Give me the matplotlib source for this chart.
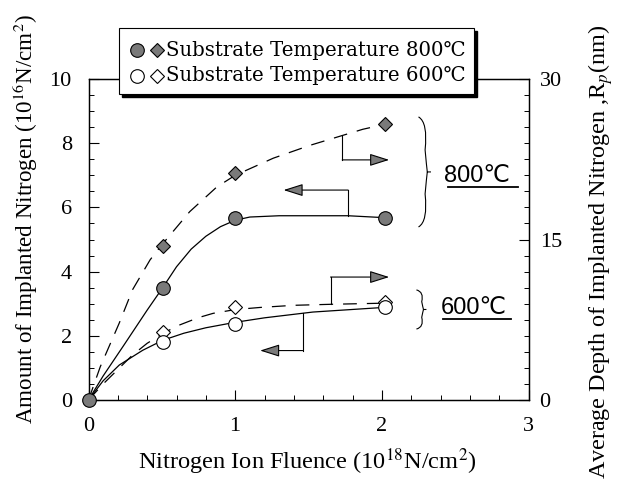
import matplotlib
matplotlib.use("Agg")
import matplotlib.pyplot as plt
from matplotlib.path import Path
from matplotlib.patches import PathPatch, Rectangle
from matplotlib.lines import Line2D

# ---------------- data ----------------
fluence = [0.0, 0.506, 1.0, 2.02]
amount_800 = [0.0, 3.5, 5.66, 5.66]          # 10^16 N/cm^2 (left axis)
depth_800 = [0.0, 14.4, 21.2, 25.8]          # nm (right axis)
amount_600 = [0.0, 1.82, 2.37, 2.91]
depth_600 = [0.0, 6.4, 8.7, 9.2]

# fitted curves
fit_amount_800_x = [0.0, 0.1, 0.24, 0.4, 0.506, 0.6, 0.7, 0.8, 0.9, 1.0, 1.1, 1.3, 1.77, 2.02]
fit_amount_800_y = [0.0, 0.75, 1.7, 2.8, 3.5, 4.15, 4.7, 5.1, 5.4, 5.6, 5.7, 5.74, 5.74, 5.68]
fit_depth_800_x = [0.0, 0.08, 0.21, 0.30, 0.42, 0.506, 0.69, 0.874, 1.0, 1.26, 1.51, 1.87, 2.0]
fit_depth_800_y = [0.0, 3.1, 7.2, 10.3, 13.1, 14.6, 17.6, 19.9, 21.0, 22.6, 23.8, 25.3, 25.7]
fit_amount_600_x = [0.0, 0.1, 0.21, 0.37, 0.506, 0.65, 0.8, 1.0, 1.2, 1.53, 2.0]
fit_amount_600_y = [0.0, 0.6, 1.09, 1.55, 1.86, 2.08, 2.25, 2.42, 2.56, 2.74, 2.88]
fit_depth_600_x = [0.0, 0.1, 0.2, 0.3, 0.4, 0.506, 0.6, 0.75, 0.85, 1.0, 1.17, 1.4, 1.67, 2.02]
fit_depth_600_y = [0.0, 1.5, 2.85, 4.2, 5.3, 6.2, 6.9, 7.7, 8.1, 8.45, 8.65, 8.85, 8.95, 9.05]

# arrow annotations (left-axis units)
arrow_800_depth = [(1.73, 8.22), (1.73, 7.48), (2.05, 7.48)]
arrow_800_amount = [(1.77, 5.74), (1.77, 6.54), (1.33, 6.54)]
arrow_600_depth = [(1.65, 2.99), (1.65, 3.83), (2.05, 3.83)]
arrow_600_amount = [(1.46, 2.72), (1.46, 1.54), (1.17, 1.54)]

xticks = [0, 1, 2, 3]
yticks_left = [0, 2, 4, 6, 8, 10]
yticks_right = [0, 15, 30]

legend_labels = ["Substrate Temperature 800℃", "Substrate Temperature 600℃"]
xlabel = "Nitrogen Ion Fluence (10$^{18}$N/cm$^{2}$)"
ylabel_left = "Amount of Implanted Nitrogen (10$^{16}$N/cm$^{2}$)"
ylabel_right = "Average Depth of Implanted Nitrogen ,R$_{p}$(nm)"

serif = ["Liberation Serif", "DejaVu Serif"]
sans = ["Liberation Sans", "DejaVu Sans"]
plt.rcParams["font.family"] = serif
plt.rcParams["mathtext.fontset"] = "stix"

W, H = 619, 503
fig = plt.figure(figsize=(W / 100, H / 100), dpi=100)
renderer = fig.canvas.get_renderer()


def fx(px):
    return px / W


def fy(py):
    return 1 - py / H


ax = fig.add_axes([fx(88.5), fy(400), (528.5 - 88.5) / W, (400 - 79) / H])
ax2 = ax.twinx()

ax.set_xlim(0, 3)
ax.set_ylim(0, 10)
ax2.set_ylim(0, 30)

fill = "#7a7a7a"
lw = 0.9
dash = (0, (11, 8))

# fitted curves
ax.plot(fit_amount_800_x, fit_amount_800_y, color="k", lw=lw)
ax.plot(fit_amount_600_x, fit_amount_600_y, color="k", lw=lw)
ax2.plot(fit_depth_800_x, fit_depth_800_y, color="k", lw=lw, ls=dash)
ax2.plot(fit_depth_600_x, fit_depth_600_y, color="k", lw=lw, ls=dash)

# markers
dms, cms = 7.5, 9.8
ax2.plot(fluence[1:], depth_800[1:], ls="none", marker="D", ms=dms,
         mfc=fill, mec="k", mew=0.8, zorder=5)
ax2.plot(fluence[1:], depth_600[1:], ls="none", marker="D", ms=dms,
         mfc="white", mec="k", mew=0.8, zorder=5)
ax2.plot(fluence[1:], [v * 3 for v in amount_800[1:]], ls="none", marker="o", ms=cms,
         mfc=fill, mec="k", mew=0.8, zorder=6)
ax2.plot(fluence[1:], [v * 3 for v in amount_600[1:]], ls="none", marker="o", ms=cms,
         mfc="white", mec="k", mew=0.8, zorder=6)
ax2.plot(fluence[:1], [amount_800[0] * 3], ls="none", marker="o", ms=cms,
         mfc=fill, mec="k", mew=0.8, zorder=7, clip_on=False)


def elbow_arrow(pts):
    xs = [p[0] for p in pts]
    ys = [p[1] for p in pts]
    ax.plot(xs[:-1], ys[:-1], color="k", lw=0.8)
    ax.annotate("", xy=pts[-1], xytext=pts[-2],
                arrowprops=dict(arrowstyle="-|>,head_length=1.2,head_width=0.38",
                                color="k", fc=fill, lw=0.8, shrinkA=0, shrinkB=0))


for a in (arrow_800_depth, arrow_800_amount, arrow_600_depth, arrow_600_amount):
    elbow_arrow(a)


def brace(x, y0, y1, w):
    ym = (y0 + y1) / 2
    h = y1 - y0
    verts = [(x - w * 0.3, y1), (x + w * 0.35, y1 - 0.05 * h),
             (x + w * 0.15, ym + 0.2 * h), (x + w * 0.25, ym + 0.05 * h),
             (x + w * 0.3, ym), (x + w * 0.55, ym),
             (x + w * 0.3, ym), (x + w * 0.25, ym - 0.05 * h),
             (x + w * 0.15, ym - 0.2 * h), (x + w * 0.35, y0 + 0.05 * h),
             (x - w * 0.3, y0)]
    codes = [Path.MOVETO, Path.CURVE3, Path.CURVE3, Path.CURVE3, Path.CURVE3,
             Path.LINETO, Path.MOVETO, Path.CURVE3, Path.CURVE3, Path.CURVE3, Path.CURVE3]
    ax.add_patch(PathPatch(Path(verts, codes), fill=False, lw=0.8, ec="k", clip_on=False))


brace(2.28, 5.39, 8.82, 0.1)
brace(2.26, 2.21, 3.43, 0.08)

ax.text(2.65, 6.98, "800℃", family=sans, fontsize=17, ha="center", va="center")
ax.plot([2.45, 2.93], [6.62, 6.62], color="k", lw=1.3)
ax.text(2.63, 2.87, "600℃", family=sans, fontsize=17, ha="center", va="center")
ax.plot([2.42, 2.88], [2.52, 2.52], color="k", lw=1.3)

# ticks
ax.set_xticks(xticks)
ax.set_xticks([i * 0.2 for i in range(16)], minor=True)
ax.set_yticks(yticks_left)
ax.set_yticks([i * 0.5 for i in range(21)], minor=True)
ax2.set_yticks(yticks_right)
ax2.set_yticks([i * 1.5 for i in range(21)], minor=True)
for a in (ax, ax2):
    a.tick_params(which="major", direction="in", length=7, width=0.8, labelsize=16)
    a.tick_params(which="minor", direction="in", length=3.5, width=0.7)
ax.tick_params(axis="x", pad=12)
ax.tick_params(axis="y", pad=12)
ax2.tick_params(axis="y", pad=8)
for a in (ax, ax2):
    for s in a.spines.values():
        s.set_linewidth(0.9)


def fitted_text(x, y, s, target_len, rotation=0, **kw):
    t = fig.text(fx(x), fy(y), s, ha="center", va="center", rotation=rotation,
                 fontsize=10, **kw)
    bb = t.get_window_extent(renderer)
    length = bb.height if rotation else bb.width
    t.set_fontsize(10 * target_len / length)
    return t


fitted_text(307, 462, xlabel, 340)
fitted_text(25, 219, ylabel_left, 410, rotation=90)
fitted_text(601, 252, ylabel_right, 455, rotation=90)

# legend box (drawn by hand to match the original)
box_x0, box_x1, box_y0, box_y1 = 119, 474, 28, 94
fig.add_artist(Rectangle((fx(box_x0 + 3), fy(box_y1 + 3)), fx(box_x1 - box_x0),
                         (box_y1 - box_y0) / H, fc="k", ec="k", zorder=10))
fig.add_artist(Rectangle((fx(box_x0), fy(box_y1)), fx(box_x1 - box_x0),
                         (box_y1 - box_y0) / H, fc="white", ec="k", lw=0.8, zorder=11))
rows_y = [50, 76]
fills = [fill, "white"]
for ry, fc, lab in zip(rows_y, fills, legend_labels):
    fig.add_artist(Line2D([fx(137)], [fy(ry)], ls="none", marker="o", ms=cms,
                          mfc=fc, mec="k", mew=0.8, zorder=12))
    fig.add_artist(Line2D([fx(157)], [fy(ry)], ls="none", marker="D", ms=dms,
                          mfc=fc, mec="k", mew=0.8, zorder=12))
    t = fig.text(fx(166), fy(ry), lab, ha="left", va="center", fontsize=10,
                 family=["DejaVu Serif"], zorder=12)
    bb = t.get_window_extent(renderer)
    t.set_fontsize(10 * 300 / bb.width)

fig.savefig("out.png", dpi=100)
